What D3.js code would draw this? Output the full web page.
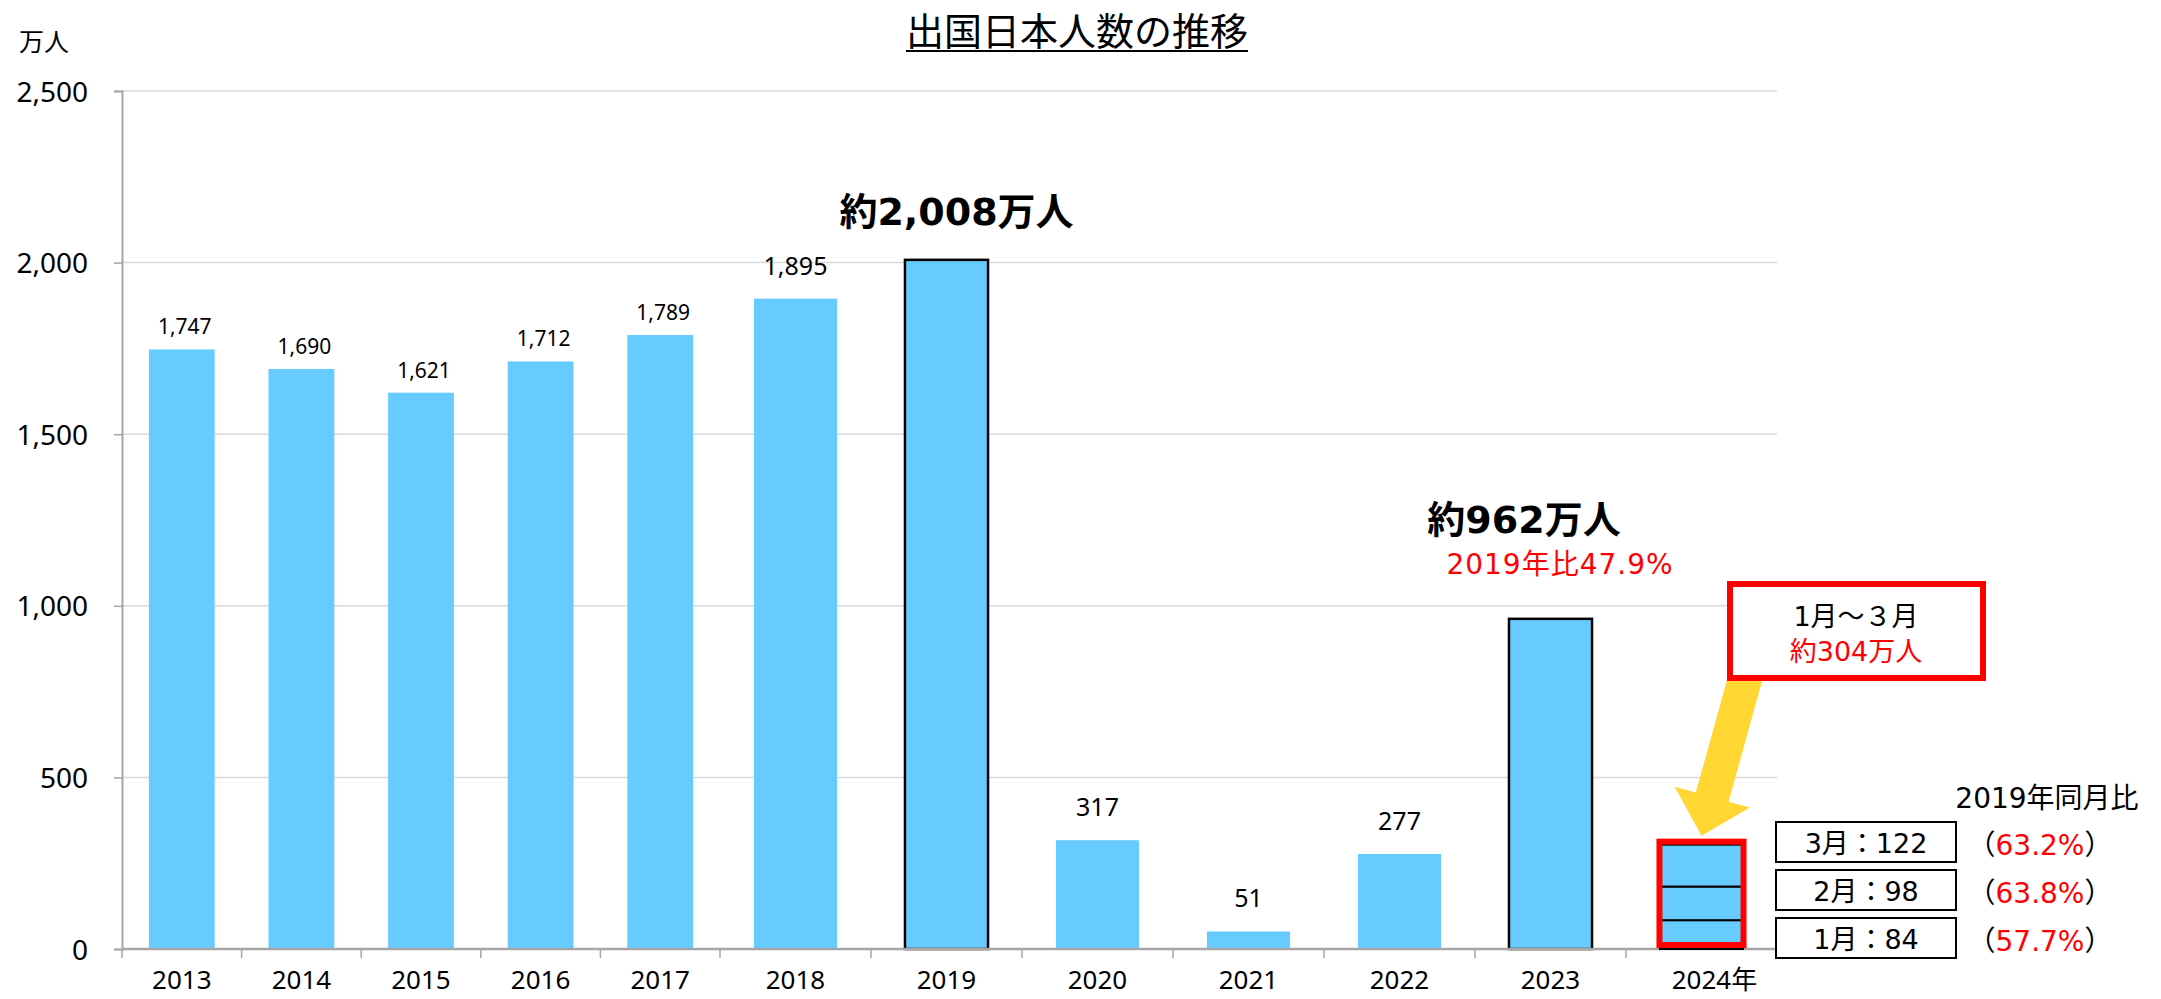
<!DOCTYPE html>
<html><head><meta charset="utf-8">
<script src="https://cdn.jsdelivr.net/npm/d3@7"></script>
<style>
html,body{margin:0;padding:0;background:#fff;}
svg{display:block;}
</style></head>
<body>
<svg id="chart" width="2161" height="999"></svg>
<script>
// ---- data ----
const yearsLeft = ["2013","2014","2015","2016","2017"];
const yearsRight = ["2018","2019","2020","2021","2022","2023","2024"];
const valuesLeft = [1747, 1690, 1621, 1712, 1789];
const valuesRight = [1895, 2008, 317, 51, 277, 962, 304];
const outlinedYears = ["2019","2023"];
const months2024 = ["1月","2月","3月"];
const monthValues2024 = [84, 98, 122];
const monthRatios2024 = ["57.7%","63.8%","63.2%"];
const yTicks = [0, 500, 1000, 1500, 2000, 2500];
const titleText = "出国日本人数の推移";
const unitText = "万人";

const svg = d3.select("#chart");
const latin = "'Noto Sans','Noto Sans CJK JP',sans-serif";
const meiryo = "'DejaVu Sans','Noto Sans CJK JP',sans-serif";
const cjk = "'Noto Sans CJK JP','Noto Sans',sans-serif";
const barColor = "#66CCFF";
const gridColor = "#d9d9d9";
const axisColor = "#a6a6a6";

const y = d3.scaleLinear().domain([0, 2500]).range([949, 91]);
const xL = d3.scaleBand().domain(yearsLeft).range([122, 720]).paddingInner(0.45).paddingOuter(0.225);
const xR = d3.scaleBand().domain(yearsRight).range([720, 1777]).paddingInner(0.45).paddingOuter(0.225);

// gridlines
svg.append("g").selectAll("line").data(yTicks.filter(d => d > 0)).join("line")
  .attr("x1", 122).attr("x2", 1777)
  .attr("y1", d => y(d)).attr("y2", d => y(d))
  .attr("stroke", gridColor).attr("stroke-width", 1.5);

// y axis
const yAxis = svg.append("g").attr("transform", "translate(122,0)")
  .call(d3.axisLeft(y).tickValues(yTicks).tickFormat(d3.format(",")).tickSize(8).tickPadding(26));
yAxis.select(".domain").attr("stroke", axisColor).attr("stroke-width", 2);
yAxis.selectAll(".tick line").attr("stroke", axisColor).attr("stroke-width", 1.5);
yAxis.selectAll(".tick text").attr("font-family", latin).attr("font-size", 28).attr("fill", "#000").attr("dy", "0.36em");

// unit label
svg.append("text").attr("x", 19).attr("y", 51).attr("font-family", cjk).attr("font-size", 25).text(unitText);

// title
const title = svg.append("text").attr("x", 1077).attr("y", 45).attr("text-anchor", "middle")
  .attr("font-family", cjk).attr("font-size", 38).attr("fill", "#000").text(titleText);
const tw = title.node().getComputedTextLength();
svg.append("line").attr("x1", 1077 - tw / 2).attr("x2", 1077 + tw / 2).attr("y1", 51).attr("y2", 51)
  .attr("stroke", "#000").attr("stroke-width", 2);

// left bars
const gL = svg.append("g");
gL.selectAll("rect").data(yearsLeft).join("rect")
  .attr("x", d => xL(d)).attr("width", xL.bandwidth())
  .attr("y", (d, i) => y(valuesLeft[i])).attr("height", (d, i) => y(0) - y(valuesLeft[i]))
  .attr("fill", barColor);
gL.selectAll("text").data(yearsLeft).join("text")
  .attr("x", d => xL(d) + xL.bandwidth() / 2 + 3).attr("y", (d, i) => y(valuesLeft[i]) - 15)
  .attr("text-anchor", "middle").attr("font-family", latin).attr("font-size", 21)
  .text((d, i) => d3.format(",")(valuesLeft[i]));

// right bars (except stacked 2024)
const rightSimple = yearsRight.slice(0, -1);
const gR = svg.append("g");
gR.selectAll("rect").data(rightSimple).join("rect")
  .attr("x", d => xR(d)).attr("width", xR.bandwidth())
  .attr("y", (d, i) => y(valuesRight[i])).attr("height", (d, i) => y(0) - y(valuesRight[i]))
  .attr("fill", barColor)
  .attr("stroke", d => outlinedYears.includes(d) ? "#000" : "none")
  .attr("stroke-width", 2.5);
gR.selectAll("text").data(rightSimple.filter(d => !outlinedYears.includes(d))).join("text")
  .attr("x", d => xR(d) + xR.bandwidth() / 2)
  .attr("y", d => y(valuesRight[yearsRight.indexOf(d)]) - 24)
  .attr("text-anchor", "middle").attr("font-family", latin).attr("font-size", 25)
  .text(d => d3.format(",")(valuesRight[yearsRight.indexOf(d)]));

// x axis baseline and ticks (ticks between categories)
svg.append("line").attr("x1", 122).attr("x2", 1777).attr("y1", y(0)).attr("y2", y(0))
  .attr("stroke", axisColor).attr("stroke-width", 2.5);
const boundaries = d3.range(yearsLeft.length + 1).map(i => 122 + i * xL.step())
  .concat(d3.range(1, yearsRight.length + 1).map(i => 720 + i * xR.step()));
svg.append("g").selectAll("line").data(boundaries).join("line")
  .attr("x1", d => d).attr("x2", d => d).attr("y1", y(0)).attr("y2", y(0) + 9)
  .attr("stroke", axisColor).attr("stroke-width", 1.5);

// x labels
const xlab = svg.append("g");
yearsLeft.forEach(d => {
  xlab.append("text").attr("x", xL(d) + xL.bandwidth() / 2).attr("y", 989).attr("text-anchor", "middle")
    .attr("font-family", latin).attr("font-size", 26).text(d);
});
yearsRight.forEach((d, i) => {
  const t = xlab.append("text").attr("x", xR(d) + xR.bandwidth() / 2).attr("y", 989).attr("text-anchor", "middle")
    .attr("font-family", latin).attr("font-size", 26).text(d);
  if (i === yearsRight.length - 1) {
    const w = t.node().getComputedTextLength();
    t.attr("text-anchor", "start").attr("x", xR(d) + xR.bandwidth() / 2 - w / 2);
    t.append("tspan").attr("font-family", cjk).text("年");
  }
});

// yellow arrow (annotation) -- drawn before the callout box
const y24 = yearsRight[yearsRight.length - 1];
const total24 = d3.sum(monthValues2024);
const tip = [xR(y24) + xR.bandwidth() / 2, y(total24) - 9];
const through = [1745, 679];
(function () {
  let dx = tip[0] - through[0], dy = tip[1] - through[1];
  const L = Math.hypot(dx, dy); dx /= L; dy /= L;
  const nx = -dy, ny = dx;
  const start = [through[0] - dx * 25, through[1] - dy * 25];
  const headLen = 40, shaftHalf = 17, headHalf = 39;
  const hb = [tip[0] - dx * headLen, tip[1] - dy * headLen];
  const pts = [
    [start[0] + nx * shaftHalf, start[1] + ny * shaftHalf],
    [hb[0] + nx * shaftHalf, hb[1] + ny * shaftHalf],
    [hb[0] + nx * headHalf, hb[1] + ny * headHalf],
    tip,
    [hb[0] - nx * headHalf, hb[1] - ny * headHalf],
    [hb[0] - nx * shaftHalf, hb[1] - ny * shaftHalf],
    [start[0] - nx * shaftHalf, start[1] - ny * shaftHalf]
  ];
  svg.append("polygon").attr("points", pts.map(p => p.join(",")).join(" ")).attr("fill", "#FFD632");
})();

// stacked 2024 bar
const cum = Array.from(d3.cumsum(monthValues2024));
const g24 = svg.append("g");
g24.selectAll("rect").data(months2024).join("rect")
  .attr("x", xR(y24)).attr("width", xR.bandwidth())
  .attr("y", (d, i) => y(cum[i])).attr("height", (d, i) => y(cum[i] - monthValues2024[i]) - y(cum[i]))
  .attr("fill", barColor).attr("stroke", "#000").attr("stroke-width", 2);
g24.append("rect").attr("x", xR(y24) - 0.5).attr("width", xR.bandwidth() + 1)
  .attr("y", y(total24) - 3).attr("height", (y(0) - 4) - (y(total24) - 3))
  .attr("fill", "none").attr("stroke", "#ff0000").attr("stroke-width", 6);

// big annotations
svg.append("text").attr("x", xR("2019") + xR.bandwidth() / 2 + 10).attr("y", 225).attr("text-anchor", "middle")
  .attr("font-family", meiryo).attr("font-weight", "bold").attr("font-size", 38)
  .text("約" + d3.format(",")(valuesRight[1]) + "万人");
svg.append("text").attr("x", 1524).attr("y", 533).attr("text-anchor", "middle")
  .attr("font-family", meiryo).attr("font-weight", "bold").attr("font-size", 38)
  .text("約" + valuesRight[5] + "万人");
svg.append("text").attr("x", 1560).attr("y", 574).attr("text-anchor", "middle")
  .attr("font-family", meiryo).attr("font-size", 28).attr("letter-spacing", 1).attr("fill", "#ff0000")
  .text("2019年比" + d3.format(".1%")(valuesRight[5] / valuesRight[1]));

// callout box
svg.append("rect").attr("x", 1730).attr("y", 584).attr("width", 253).attr("height", 94)
  .attr("fill", "#fff").attr("stroke", "#ff0000").attr("stroke-width", 6);
svg.append("text").attr("x", 1856).attr("y", 626).attr("text-anchor", "middle")
  .attr("font-family", meiryo).attr("font-size", 27).text("1月～３月");
svg.append("text").attr("x", 1856).attr("y", 661).attr("text-anchor", "middle")
  .attr("font-family", meiryo).attr("font-size", 27).attr("fill", "#ff0000").text("約" + total24 + "万人");

// monthly breakdown
svg.append("text").attr("x", 2047).attr("y", 808).attr("text-anchor", "middle")
  .attr("font-family", meiryo).attr("font-size", 28).text("2019年同月比");
const mg = svg.append("g");
months2024.forEach((m, i) => {
  const top = 918 - i * 48;
  mg.append("rect").attr("x", 1776).attr("y", top).attr("width", 180).attr("height", 40)
    .attr("fill", "#fff").attr("stroke", "#000").attr("stroke-width", 2);
  mg.append("text").attr("x", 1866).attr("y", top + 31).attr("text-anchor", "middle")
    .attr("font-family", meiryo).attr("font-size", 27).text(m + "：" + monthValues2024[i]);
  const t = mg.append("text").attr("x", 2040).attr("y", top + 33).attr("text-anchor", "middle")
    .attr("font-family", meiryo).attr("font-size", 28);
  t.append("tspan").text("（");
  t.append("tspan").attr("fill", "#ff0000").text(monthRatios2024[i]);
  t.append("tspan").text("）");
});
</script>
</body></html>
